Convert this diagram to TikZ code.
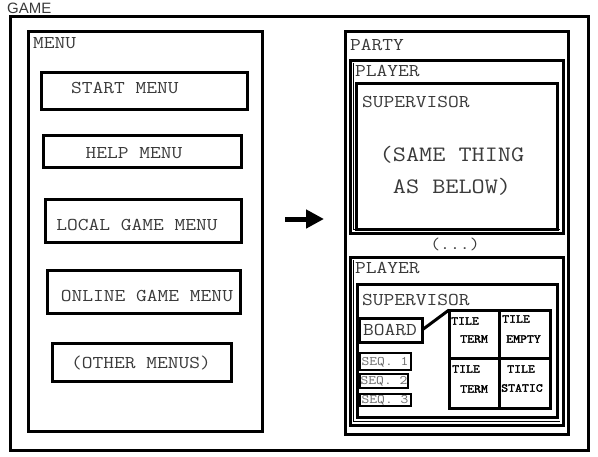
\documentclass[tikz,border=0pt]{standalone}
\usepackage{fontspec}
\setsansfont{Liberation Sans}
\newfontfamily\typefont[FakeStretch=1.16]{Latin Modern Mono}
\newfontfamily\tilefont[FakeStretch=1.12, FakeBold=2.2]{Latin Modern Mono}
\usetikzlibrary{fit,arrows.meta}
\definecolor{txt}{HTML}{3A3A3A}
\tikzset{
  box/.style={draw=black, line width=3pt, inner sep=0pt, outer sep=0pt},
  edge/.style={draw=black, line width=1.5pt},
  lbl/.style={inner sep=0pt, text=txt, font=\typefont\fontsize{18}{20}\selectfont},
  big/.style={inner sep=0pt, text=txt, font=\typefont\fontsize{22}{24}\selectfont},
  seqtxt/.style={inner sep=0pt, text=txt!75, font=\typefont\fontsize{13}{14}\selectfont},
  tiletxt/.style={inner sep=0pt, text=black, font=\tilefont\fontsize{12}{13}\selectfont},
  bigarrow/.style={line width=5pt, -{Triangle[length=18pt,width=18pt]}}
}
\begin{document}
\begin{tikzpicture}[x=1pt,y=-1pt]
\useasboundingbox (0,0) rectangle (598,456);

% outer frame
\node[box, fit={(10,16) (588,450)}] (game) {};
\node[anchor=west, inner sep=0pt, text=txt, font=\sffamily\fontsize{15}{16}\selectfont] (gameT) at (7,8) {GAME};

% menu column
\node[box, fit={(28,31) (262,431)}] (menu) {};
\node[lbl, anchor=west] (menuT) at (33,43) {MENU};
\node[box, fit={(41,72) (247,109)}] (start) {};
\node[lbl] (startT) at (125,88) {START MENU};
\node[box, fit={(43,135) (241,167)}] (help) {};
\node[lbl] (helpT) at (134,153) {HELP MENU};
\node[box, fit={(45,199) (241,242)}] (local) {};
\node[lbl] (localT) at (137,225) {LOCAL GAME MENU};
\node[box, fit={(47,270) (240,313)}] (online) {};
\node[lbl] (onlineT) at (147,296) {ONLINE GAME MENU};
\node[box, fit={(52,343) (231,381)}] (other) {};
\node[lbl] (otherT) at (141,363) {(OTHER MENUS)};

% transition arrow
\coordinate (arrS) at (285,219);
\coordinate (arrE) at (324,219);
\draw[bigarrow] (arrS) -- (arrE);

% party column
\node[box, fit={(345,31) (568,434)}] (party) {};
\node[lbl, anchor=west] (partyT) at (350,45) {PARTY};

% first player
\node[box, fit={(350,60) (563,233)}] (playerA) {};
\draw[edge] ([xshift=3.5pt,yshift=-3pt]playerA.north west) |- ([xshift=-3pt,yshift=3.5pt]playerA.south east);
\node[lbl, anchor=west] (playerAT) at (355,71) {PLAYER};
\node[box, fit={(356,83) (557,229)}] (supA) {};
\node[lbl, anchor=west] (supAT) at (362,102) {SUPERVISOR};
\node[big] (sameA) at (452,155) {(SAME THING};
\node[big] (sameB) at (452,187) {AS BELOW)};

\node[lbl, font=\typefont\fontsize{16.5}{18}\selectfont] (dots) at (455,244) {(...)};

% last player
\node[box, fit={(350,257) (563,425)}] (playerB) {};
\draw[edge] ([xshift=3.5pt,yshift=-3pt]playerB.north west) |- ([xshift=-3pt,yshift=3.5pt]playerB.south east);
\node[lbl, anchor=west] (playerBT) at (355,268) {PLAYER};
\node[box, fit={(357,284) (557,417)}] (supB) {};
\node[lbl, anchor=west] (supBT) at (362,300) {SUPERVISOR};

\node[box, fit={(359,318) (422,342)}] (board) {};
\node[lbl] (boardT) at (390,330) {BOARD};

\node[box, line width=2.5pt, fit={(360,353) (411,370)}] (seqA) {};
\node[seqtxt] (seqAT) at (385,362) {SEQ. 1};
\node[box, line width=2.5pt, fit={(360,374) (408,388)}] (seqB) {};
\node[seqtxt] (seqBT) at (384,381) {SEQ. 2};
\node[box, line width=2.5pt, fit={(360,394) (411,406)}] (seqC) {};
\node[seqtxt] (seqCT) at (385,400) {SEQ. 3};

% tile grid
\node[box, fit={(449,310) (499,358)}] (tileA) {};
\node[box, fit={(499,310) (550,358)}] (tileB) {};
\node[box, fit={(449,358) (499,408)}] (tileC) {};
\node[box, fit={(499,358) (550,408)}] (tileD) {};
\node[tiletxt, anchor=west] (tileA1) at (451,321) {TILE};
\node[tiletxt, anchor=west] (tileA2) at (460,339) {TERM};
\node[tiletxt, anchor=west] (tileB1) at (502,319) {TILE};
\node[tiletxt, anchor=west] (tileB2) at (506,339) {EMPTY};
\node[tiletxt, anchor=west] (tileC1) at (452,369) {TILE};
\node[tiletxt, anchor=west] (tileC2) at (460,389) {TERM};
\node[tiletxt, anchor=west] (tileD1) at (507,369) {TILE};
\node[tiletxt, anchor=west] (tileD2) at (501,388) {STATIC};

\draw[line width=3pt] (board.east) -- (tileA.north west);
\end{tikzpicture}
\end{document}
